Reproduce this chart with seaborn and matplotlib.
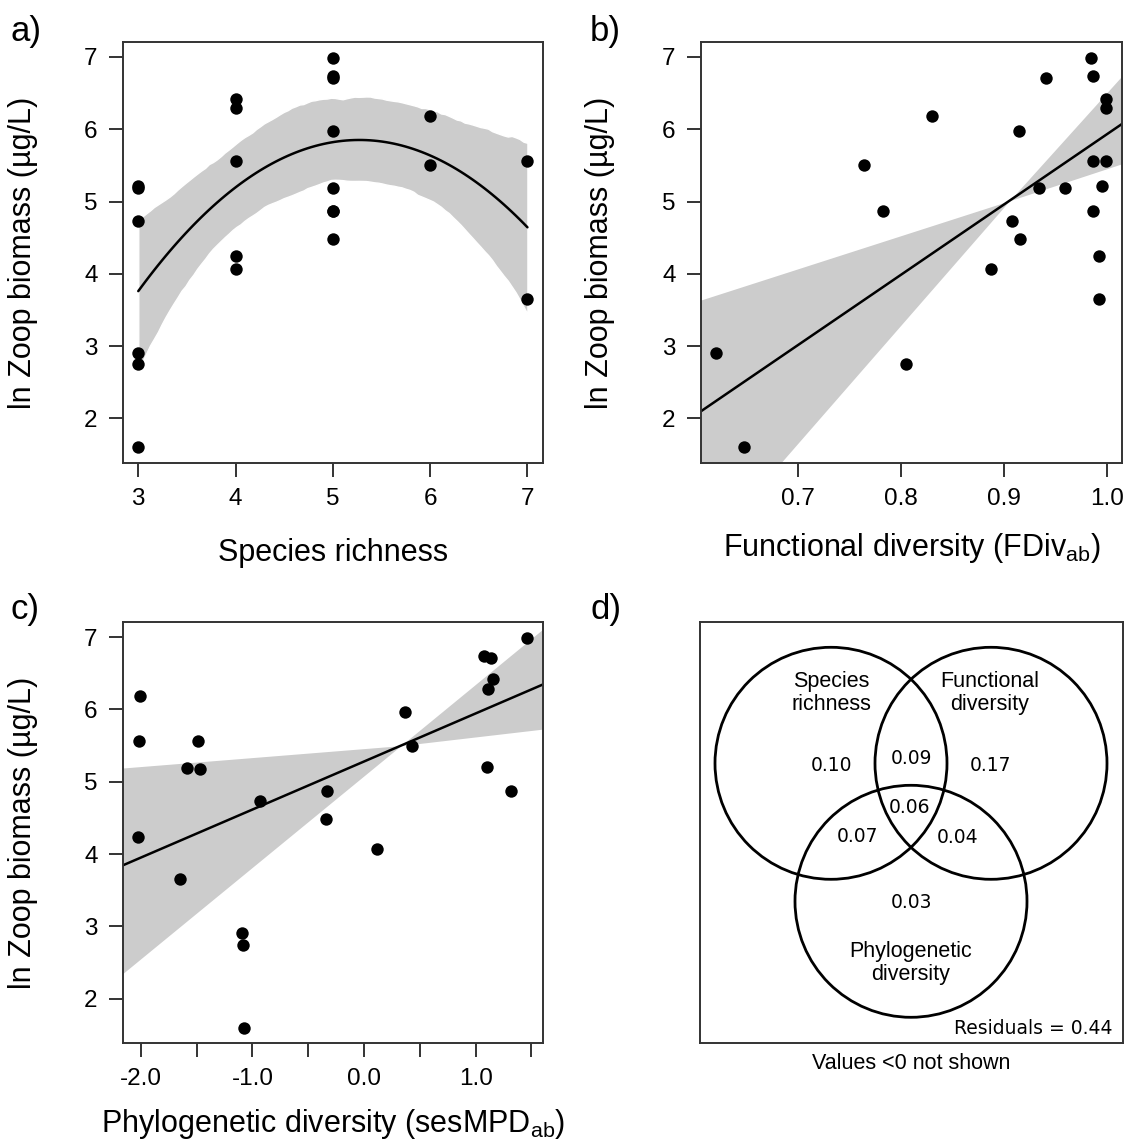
import numpy as np
import pandas as pd
import seaborn as sns
import matplotlib.pyplot as plt
from matplotlib.patches import Circle
from matplotlib.collections import PolyCollection

# values per pond
richness = [5, 5, 5, 4, 4, 6, 5, 4, 7, 6, 3, 3, 5, 5, 5, 3, 5, 4, 4, 7, 3, 3, 3]
fdiv = [0.984, 0.986, 0.940, 0.999, 0.999, 0.830, 0.914, 0.986, 0.999, 0.764, 0.995, 0.934,
        0.959, 0.783, 0.986, 0.908, 0.915, 0.992, 0.887, 0.992, 0.621, 0.805, 0.648]
sesmpd = [1.465, 1.077, 1.142, 1.160, 1.107, -2.009, 0.368, -2.015, -1.484, 0.431, 1.101, -1.591,
          -1.472, -0.330, 1.321, -0.936, -0.342, -2.024, 0.120, -1.651, -1.090, -1.085, -1.076]
biomass = [6.99, 6.74, 6.71, 6.42, 6.29, 6.18, 5.97, 5.56, 5.56, 5.50, 5.21, 5.19,
           5.18, 4.87, 4.87, 4.73, 4.48, 4.24, 4.07, 3.65, 2.91, 2.75, 1.60]

# fitted lines and confidence bands of the linear models (left end, pivot, right end)
fdiv_band_x = [0.600, 0.905, 1.020]
fdiv_fit = [2.04, 5.01, 6.13]
fdiv_band_lo = [0.02, 5.01, 5.55]
fdiv_band_hi = [3.61, 5.01, 6.83]
mpd_band_x = [-2.170, 0.330, 1.610]
mpd_fit = [3.84, 5.50, 6.35]
mpd_band_lo = [2.34, 5.50, 5.73]
mpd_band_hi = [5.19, 5.50, 7.12]

# variance partitioning (Venn)
venn_sets = ["Species\nrichness", "Functional\ndiversity", "Phylogenetic\ndiversity"]
venn_regions = ["SR", "FD", "PD", "SR+FD", "SR+PD", "FD+PD", "SR+FD+PD"]
venn_values = [0.10, 0.17, 0.03, 0.09, 0.07, 0.04, 0.06]
residuals = 0.44

df = pd.DataFrame({"richness": richness, "fdiv": fdiv, "sesmpd": sesmpd, "biomass": biomass})

sns.set_style("white")
plt.rcParams["font.family"] = ["Liberation Sans", "DejaVu Sans"]
plt.rcParams["mathtext.fontset"] = "custom"
plt.rcParams["mathtext.rm"] = "Liberation Sans"
plt.rcParams["text.color"] = "black"
plt.rcParams["axes.labelcolor"] = "black"
plt.rcParams["xtick.color"] = "black"
plt.rcParams["ytick.color"] = "black"

W, H = 1126, 1143
fig = plt.figure(figsize=(W / 100, H / 100), dpi=100)


def px_axes(l, t, r, b):
    return fig.add_axes([l / W, 1 - b / H, (r - l) / W, (b - t) / H])


def pad_lim(v):
    lo, hi = min(v), max(v)
    return lo - 0.04 * (hi - lo), hi + 0.04 * (hi - lo)


def frame(ax):
    for s in ax.spines.values():
        s.set_visible(True)
        s.set_color("#333333")
        s.set_linewidth(1.4)
    ax.tick_params(direction="out", length=10, width=1.4, color="#333333",
                   labelcolor="black", labelsize=17.5, pad=8, bottom=True, left=True)
    ax.grid(False)


ax_a = px_axes(122.7, 42, 543, 463)
ax_b = px_axes(700.7, 42, 1122, 463)
ax_c = px_axes(122.7, 622.3, 543, 1043.3)
ax_d = px_axes(700, 622.3, 1122.7, 1043.3)

sc_kw = dict(s=80, linewidths=0, alpha=1, zorder=3)
ln_kw = dict(lw=1.8, zorder=2)
ylab = "ln Zoop biomass (µg/L)"

# a) quadratic fit on species richness
ax_a.set_xlim(pad_lim(richness))
ax_a.set_ylim(pad_lim(biomass))
sns.regplot(data=df, x="richness", y="biomass", order=2, ci=95, n_boot=1000, seed=3,
            color="black", ax=ax_a, scatter_kws=sc_kw, line_kws=ln_kw)
for coll in ax_a.collections:
    if isinstance(coll, PolyCollection):
        coll.set_facecolor("#cccccc")
        coll.set_alpha(1)
        coll.set_zorder(0.5)
ax_a.set_xticks([3, 4, 5, 6, 7])
ax_a.set_xlabel("Species richness")

# b) functional diversity
ax_b.set_xlim(pad_lim(fdiv))
ax_b.fill_between(fdiv_band_x, fdiv_band_lo, fdiv_band_hi, color="#cccccc", lw=0, zorder=0.5)
sns.lineplot(x=fdiv_band_x, y=fdiv_fit, color="black", ax=ax_b, **ln_kw)
sns.scatterplot(data=df, x="fdiv", y="biomass", color="black", ax=ax_b, **sc_kw)
ax_b.set_xlim(pad_lim(fdiv))
ax_b.set_xticks([0.7, 0.8, 0.9, 1.0])
ax_b.set_xticklabels(["0.7", "0.8", "0.9", "1.0"])
ax_b.set_xlabel(r"Functional diversity (FDiv$_\mathregular{ab}$)")

# c) phylogenetic diversity
ax_c.set_xlim(pad_lim(sesmpd))
ax_c.fill_between(mpd_band_x, mpd_band_lo, mpd_band_hi, color="#cccccc", lw=0, zorder=0.5)
sns.lineplot(x=mpd_band_x, y=mpd_fit, color="black", ax=ax_c, **ln_kw)
sns.scatterplot(data=df, x="sesmpd", y="biomass", color="black", ax=ax_c, **sc_kw)
ax_c.set_xlim(pad_lim(sesmpd))
ax_c.set_xticks(np.arange(-2.0, 1.51, 0.5))
ax_c.set_xticklabels(["-2.0", "", "-1.0", "", "0.0", "", "1.0", ""])
ax_c.set_xlabel(r"Phylogenetic diversity (sesMPD$_\mathregular{ab}$)")

for ax, lab_y in [(ax_a, -98 / 421), (ax_b, -93 / 421), (ax_c, -89 / 421)]:
    frame(ax)
    ax.set_ylim(pad_lim(biomass))
    ax.set_yticks([2, 3, 4, 5, 6, 7])
    ax.set_ylabel(ylab, fontsize=22, va="center")
    ax.yaxis.set_label_coords(-100 / 420, 0.5)
    ax.xaxis.label.set_fontsize(22)
    ax.xaxis.label.set_va("baseline")
    ax.xaxis.set_label_coords(0.5, lab_y)

# d) Venn diagram of explained variance
frame(ax_d)
ax_d.set_xlim(0, 422.7)
ax_d.set_ylim(0, 421)
ax_d.set_xticks([])
ax_d.set_yticks([])
centers = [(131, 280), (291, 280), (211, 142)]
for cx, cy in centers:
    ax_d.add_patch(Circle((cx, cy), 116, fill=False, ec="black", lw=2.0))
for (tx, ty), name in zip([(131.7, 350), (290, 350), (211, 80)], venn_sets):
    ax_d.text(tx, ty, name, ha="center", va="center", fontsize=15.5, linespacing=1.15)
region_xy = [(131.7, 278), (290.7, 278), (211, 141), (211, 285), (157, 207), (258, 206), (210, 236)]
for (tx, ty), v in zip(region_xy, venn_values):
    ax_d.text(tx, ty, f"{v:.2f}", ha="center", va="center", fontsize=13.5, family="DejaVu Sans")
ax_d.text(413, 15, f"Residuals = {residuals:.2f}", ha="right", va="center",
          fontsize=13.5, family="DejaVu Sans")
ax_d.text(0.5, -20 / 421, "Values <0 not shown", transform=ax_d.transAxes,
          ha="center", va="center", fontsize=15.5)

for lab, x, y in [("a)", 10, 31), ("b)", 590, 31), ("c)", 10, 610), ("d)", 590, 610)]:
    fig.text(x / W, 1 - y / H, lab, ha="left", va="center", fontsize=25)

fig.savefig("out.png", dpi=100)
